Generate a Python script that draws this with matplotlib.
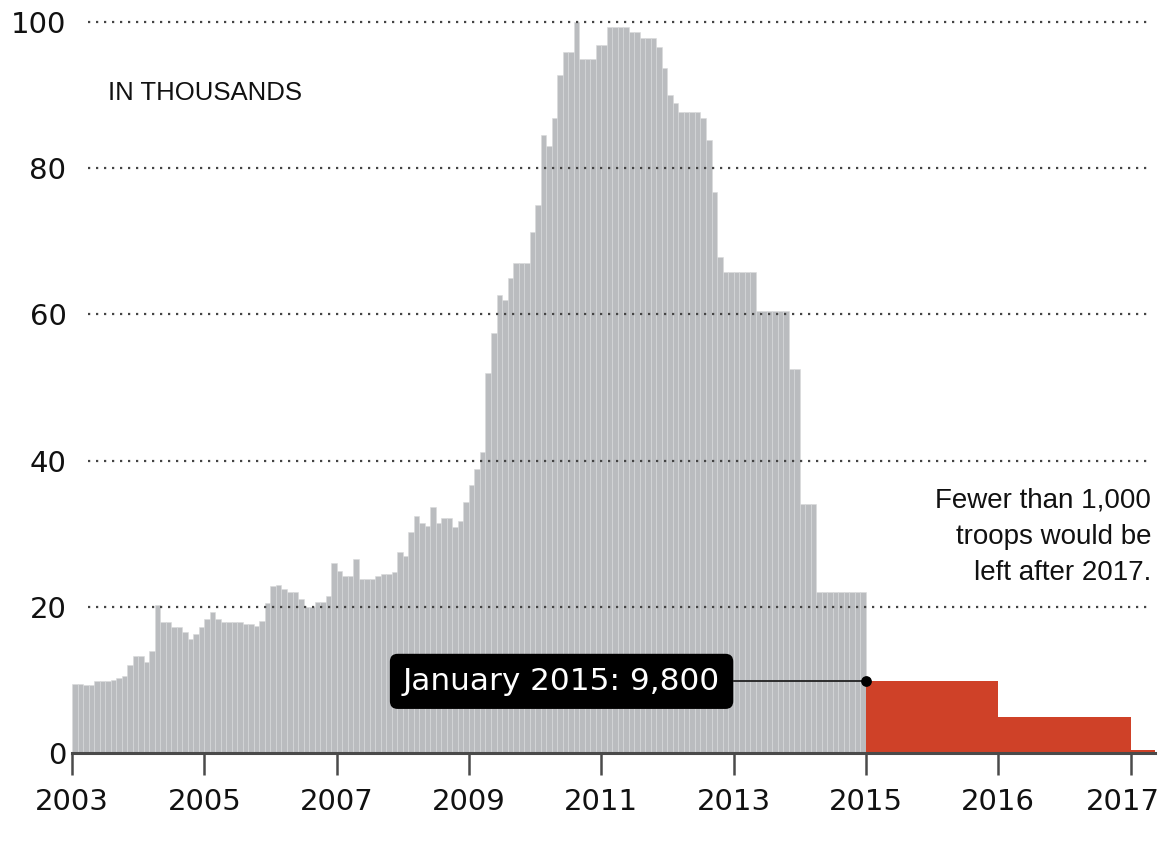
import numpy as np
import matplotlib
matplotlib.use("Agg")
import matplotlib.pyplot as plt
from matplotlib.transforms import ScaledTranslation

plt.rcParams['font.family'] = ['DejaVu Sans']

# monthly US troops in thousands, Jan 2003 - Dec 2014
troops = [
    9.4, 9.4, 9.3, 9.3, 9.8, 9.9, 9.9, 10.0, 10.2, 10.5, 12.0, 13.3,      # 2003
    13.3, 12.4, 14.0, 20.3, 17.9, 17.9, 17.2, 17.2, 16.5, 15.6, 16.3, 17.2,  # 2004
    18.3, 19.3, 18.3, 17.9, 17.9, 17.9, 17.9, 17.6, 17.6, 17.4, 18.0, 20.5,  # 2005
    22.8, 23.0, 22.5, 22.0, 22.0, 21.0, 20.0, 20.0, 20.6, 20.6, 21.5, 26.0,  # 2006
    24.9, 24.2, 24.2, 26.5, 23.8, 23.8, 23.8, 24.2, 24.5, 24.5, 24.7, 27.5,  # 2007
    27.0, 30.3, 32.4, 31.5, 31.0, 33.6, 31.5, 32.2, 32.2, 30.9, 31.7, 34.4,  # 2008
    36.7, 38.8, 41.2, 52.0, 57.5, 62.7, 62.0, 65.0, 67.0, 67.0, 67.0, 71.3,  # 2009
    75.0, 84.5, 83.0, 86.9, 92.8, 95.9, 95.9, 100.0, 95.0, 95.0, 95.0, 96.8,  # 2010
    96.8, 99.3, 99.3, 99.3, 99.3, 98.6, 98.6, 97.8, 97.8, 97.8, 96.6, 93.7,  # 2011
    90.0, 88.9, 87.7, 87.7, 87.7, 87.7, 86.9, 83.9, 76.8, 67.8, 65.8, 65.8,  # 2012
    65.8, 65.8, 65.8, 65.8, 60.4, 60.4, 60.4, 60.4, 60.4, 60.4, 52.5, 52.5,  # 2013
    34.0, 34.0, 34.0, 22.0, 22.0, 22.0, 22.0, 22.0, 22.0, 22.0, 22.0, 22.0,  # 2014
]
start_year = 2003

# planned drawdown
plan_start = [2015, 2016, 2017]
plan_end = [2016, 2017, 2017.2]
plan_values = [9.8, 4.9, 0.4]

year_ticks = [2003, 2005, 2007, 2009, 2011, 2013, 2015, 2016, 2017]
y_ticks = [0, 20, 40, 60, 80, 100]

GRAY = '#babcbf'
RED = '#cf4128'
TEXT_FONT = ['Liberation Sans', 'DejaVu Sans']


# after 2015 each year is drawn twice as wide
def fwd(t):
    t = np.asarray(t, dtype=float)
    return np.where(t <= 2015, t - 2003, 12 + 2 * (t - 2015))


def inv(p):
    p = np.asarray(p, dtype=float)
    return np.where(p <= 12, p + 2003, 2015 + (p - 12) / 2)


fig = plt.figure(figsize=(11.61, 8.42), dpi=100)
ax = fig.add_axes([72 / 1161, 1 - 753 / 842, (1155 - 72) / 1161, (753 - 22) / 842])
ax.set_xscale('function', functions=(fwd, inv))

months = start_year + np.arange(len(troops)) / 12
ax.bar(months, troops, width=1 / 12, align='edge', color=GRAY,
       edgecolor='#d9dadc', linewidth=0.4, zorder=2)

widths = [e - s for s, e in zip(plan_start, plan_end)]
ax.bar(plan_start, plan_values, width=widths, align='edge', color=RED,
       linewidth=0, zorder=2)

# dotted grid on top of the bars
for v in y_ticks[1:]:
    ax.axhline(v, xmin=0.015, xmax=0.993, color='#444444', lw=1.6,
               ls=(0, (1, 2.6)), zorder=3, clip_on=False)

ax.set_xlim(2003, 2017.185)
ax.set_ylim(0, 100)

for s in ['top', 'right', 'left']:
    ax.spines[s].set_visible(False)
ax.spines['bottom'].set_color('#4a4a4a')
ax.spines['bottom'].set_linewidth(2.2)
ax.spines['bottom'].set_zorder(4)

ax.set_xticks(year_ticks)
ax.set_xticklabels([str(y) for y in year_ticks])
ax.xaxis.set_minor_locator(matplotlib.ticker.NullLocator())
ax.tick_params(axis='x', length=16, width=1.8, color='#4a4a4a', pad=9,
               labelsize=21, labelcolor='#111111')
ax.set_yticks(y_ticks)
ax.tick_params(axis='y', length=0, pad=4, labelsize=21, labelcolor='#111111')

# last year label pulled in so it stays inside the picture
last = ax.get_xticklabels()[-1]
last.set_transform(last.get_transform() + ScaledTranslation(-0.08, 0, fig.dpi_scale_trans))

ax.text(2003.55, 90.3, 'IN THOUSANDS', fontsize=18.5, color='#111111',
        family=TEXT_FONT, va='center', ha='left')

ax.text(2017.155, 29.6, 'Fewer than 1,000\ntroops would be\nleft after 2017.',
        fontsize=20, color='#111111', ha='right', va='center', linespacing=1.5,
        family=TEXT_FONT)

# callout for January 2015
ax.plot([2013.0, 2015], [plan_values[0], plan_values[0]], color='#222222',
        lw=1.3, zorder=5)
ax.scatter([2015], [plan_values[0]], s=45, color='black', zorder=6)
ax.text(2010.4, plan_values[0], 'January 2015: 9,800', fontsize=22.4,
        color='white', ha='center', va='center', zorder=7,
        bbox=dict(boxstyle='round,pad=0.42,rounding_size=0.25', fc='black', ec='none'))

fig.savefig('out.png', dpi=100)
